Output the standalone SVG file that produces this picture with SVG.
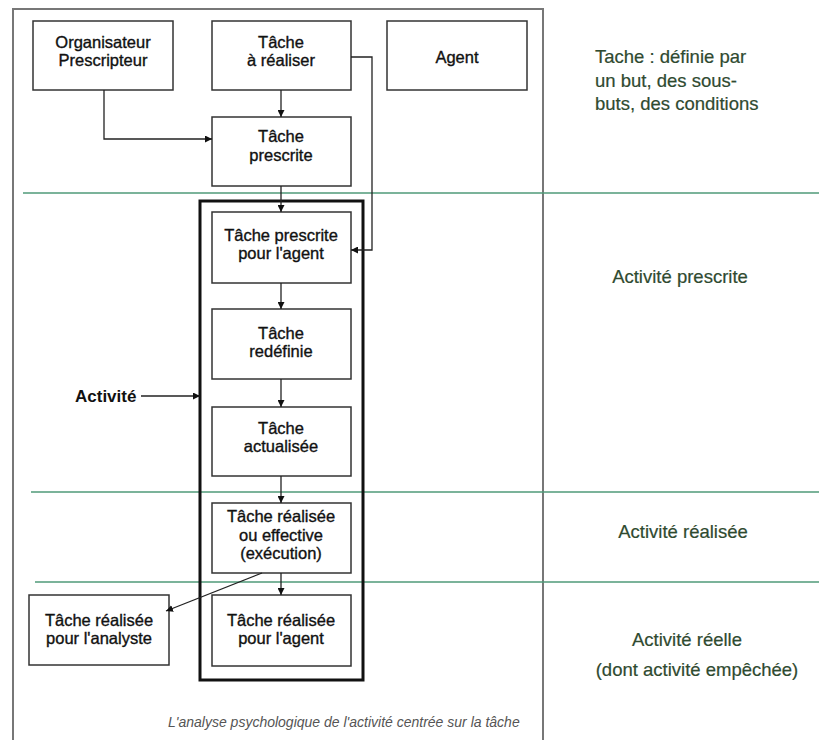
<svg xmlns="http://www.w3.org/2000/svg" width="819" height="740" viewBox="0 0 819 740">
<style>
.box{fill:#fff;stroke:#333;stroke-width:1.5}
.t{font-family:"Liberation Sans",Arial,sans-serif;font-size:16.5px;fill:#111;stroke:#111;stroke-width:0.35;text-anchor:middle}
.g{font-family:"Liberation Sans",Arial,sans-serif;font-size:18.5px;fill:#2f4a30;stroke:#2f4a30;stroke-width:0.2}
.gl{stroke:#4f9a78;stroke-width:1.5}
.c{fill:none;stroke:#222;stroke-width:1.3;marker-end:url(#a)}
</style>
<defs>
<marker id="a" viewBox="0 0 10 10" refX="10" refY="5" markerWidth="7" markerHeight="7" markerUnits="userSpaceOnUse" orient="auto">
<path d="M0,0 L10,5 L0,10 z" fill="#111"/>
</marker>
</defs>
<rect width="819" height="740" fill="#fff"/>
<path d="M13,745 V9 H543 V745" fill="none" stroke="#777" stroke-width="2"/>
<g id="bands">
<line class="gl" x1="23" y1="193" x2="819" y2="193"/>
<line class="gl" x1="31" y1="492" x2="819" y2="492"/>
<line class="gl" x1="35" y1="582" x2="819" y2="582"/>
</g>
<g id="activite-frame"><rect x="200" y="201" width="163" height="479" fill="none" stroke="#111" stroke-width="3"/></g>
<g id="organisateur"><rect class="box" x="33" y="21" width="140" height="69"/><text class="t" x="103" y="48">Organisateur</text><text class="t" x="103" y="66">Prescripteur</text></g>
<g id="tache-a-realiser"><rect class="box" x="212" y="21" width="139" height="69"/><text class="t" x="281" y="48">Tâche</text><text class="t" x="281" y="66">à réaliser</text></g>
<g id="agent"><rect class="box" x="387" y="21" width="140" height="69"/><text class="t" x="457" y="63">Agent</text></g>
<g id="tache-prescrite"><rect class="box" x="212" y="117" width="139" height="69"/><text class="t" x="281" y="142">Tâche</text><text class="t" x="281" y="161">prescrite</text></g>
<g id="tache-prescrite-agent"><rect class="box" x="212" y="212" width="139" height="71"/><text class="t" x="281" y="241">Tâche prescrite</text><text class="t" x="281" y="259">pour l'agent</text></g>
<g id="tache-redefinie"><rect class="box" x="212" y="309" width="139" height="70"/><text class="t" x="281" y="339">Tâche</text><text class="t" x="281" y="357">redéfinie</text></g>
<g id="tache-actualisee"><rect class="box" x="212" y="407" width="139" height="69"/><text class="t" x="281" y="434">Tâche</text><text class="t" x="281" y="452">actualisée</text></g>
<g id="tache-realisee"><rect class="box" x="212" y="503" width="139" height="70"/><text class="t" x="281" y="522">Tâche réalisée</text><text class="t" x="281" y="541">ou effective</text><text class="t" x="281" y="559">(exécution)</text></g>
<g id="tache-realisee-agent"><rect class="box" x="212" y="595" width="139" height="71"/><text class="t" x="281" y="626">Tâche réalisée</text><text class="t" x="281" y="644">pour l'agent</text></g>
<g id="tache-realisee-analyste"><rect class="box" x="29" y="595" width="140" height="70"/><text class="t" x="99" y="626">Tâche réalisée</text><text class="t" x="99" y="644">pour l'analyste</text></g>
<g id="activite-label"><text x="75" y="402" font-family="Liberation Sans,Arial,sans-serif" font-size="17" font-weight="bold" fill="#111">Activité</text></g>
<g id="connectors">
<path class="c" d="M104,90 V139 H212"/>
<path class="c" d="M281,90 V117"/>
<path class="c" d="M351,57 H372 V250 H351"/>
<path class="c" d="M281,186 V212"/>
<path class="c" d="M281,283 V309"/>
<path class="c" d="M281,379 V407"/>
<path class="c" d="M281,476 V503"/>
<path class="c" d="M281,573 V595"/>
<path class="c" d="M262,573 L166,611"/>
<path class="c" d="M141,396 H200"/>
</g>
<g id="annotations">
<text class="g" x="595" y="63">Tache : définie par</text>
<text class="g" x="595" y="87">un but, des sous-</text>
<text class="g" x="595" y="110">buts, des conditions</text>
<text class="g" x="680" y="283" text-anchor="middle">Activité prescrite</text>
<text class="g" x="683" y="538" text-anchor="middle">Activité réalisée</text>
<text class="g" x="687" y="646" text-anchor="middle">Activité réelle</text>
<text class="g" x="697" y="676" text-anchor="middle">(dont activité empêchée)</text>
</g>
<text x="168" y="727" font-family="Liberation Sans,Arial,sans-serif" font-size="14" font-style="italic" fill="#555">L'analyse psychologique de l'activité centrée sur la tâche</text>
</svg>
